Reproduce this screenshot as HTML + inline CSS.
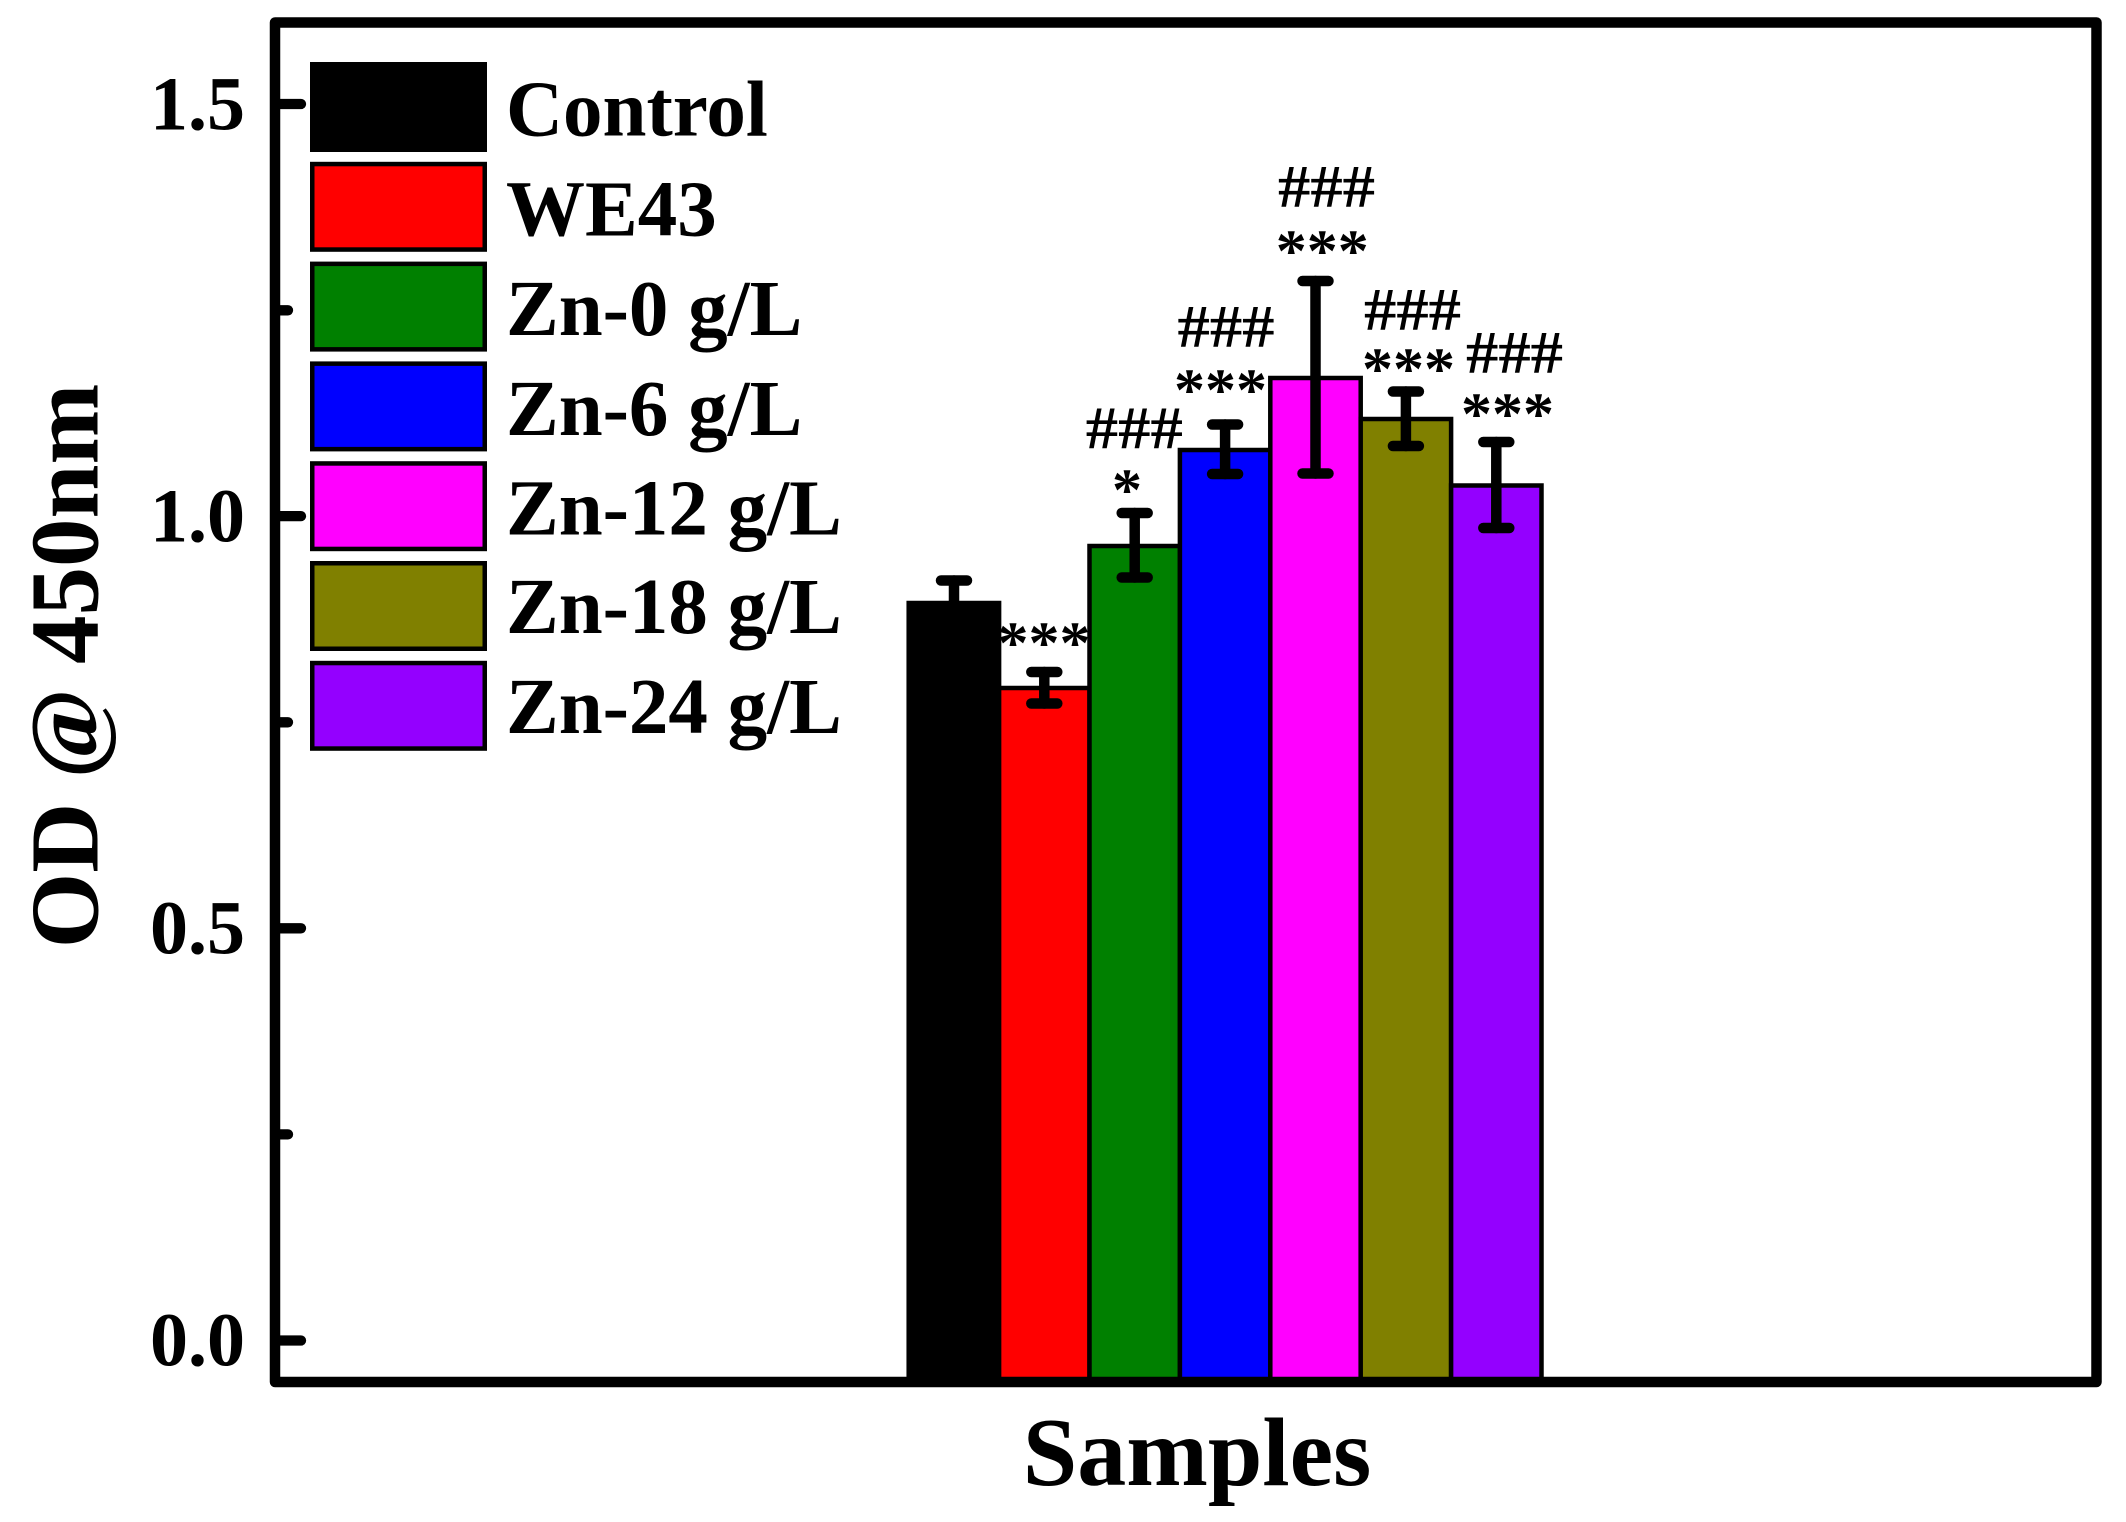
<!DOCTYPE html>
<html>
<head>
<meta charset="utf-8">
<style>
  html, body { margin: 0; padding: 0; background: #ffffff; }
  svg { display: block; }
  text { font-family: "Liberation Serif", "Times New Roman", serif; font-weight: bold; fill: #000; }
</style>
</head>
<body>
<svg width="2126" height="1522" viewBox="0 0 2126 1522" xmlns="http://www.w3.org/2000/svg">
  <rect x="0" y="0" width="2126" height="1522" fill="#ffffff"/>

  <!-- Bars -->
  <g stroke="#000" stroke-width="4.5">
    <rect x="908.7" y="603" width="90.4" height="779" fill="#000000"/>
    <rect x="999.1" y="688" width="90.4" height="694" fill="#ff0000"/>
    <rect x="1089.5" y="546" width="90.4" height="836" fill="#008000"/>
    <rect x="1179.9" y="450" width="90.4" height="932" fill="#0000ff"/>
    <rect x="1270.3" y="378" width="90.4" height="1004" fill="#ff00ff"/>
    <rect x="1360.7" y="419" width="90.4" height="963" fill="#808000"/>
    <rect x="1451.1" y="485.5" width="90.4" height="896.5" fill="#9400ff"/>
  </g>

  <!-- Error bars -->
  <g stroke="#000" stroke-width="10.5" stroke-linecap="round" fill="none">
    <line x1="954" y1="580.5" x2="954" y2="625.5"/>
    <line x1="941" y1="580.5" x2="967" y2="580.5"/>

    <line x1="1044.3" y1="672" x2="1044.3" y2="703.5"/>
    <line x1="1031.3" y1="672" x2="1057.3" y2="672"/>
    <line x1="1031.3" y1="703.5" x2="1057.3" y2="703.5"/>

    <line x1="1134.7" y1="513" x2="1134.7" y2="577.5"/>
    <line x1="1121.7" y1="513" x2="1147.7" y2="513"/>
    <line x1="1121.7" y1="577.5" x2="1147.7" y2="577.5"/>

    <line x1="1225.1" y1="424.5" x2="1225.1" y2="474"/>
    <line x1="1212.1" y1="424.5" x2="1238.1" y2="424.5"/>
    <line x1="1212.1" y1="474" x2="1238.1" y2="474"/>

    <line x1="1315.5" y1="281" x2="1315.5" y2="473.5"/>
    <line x1="1302.5" y1="281" x2="1328.5" y2="281"/>
    <line x1="1302.5" y1="473.5" x2="1328.5" y2="473.5"/>

    <line x1="1405.9" y1="391.5" x2="1405.9" y2="446"/>
    <line x1="1392.9" y1="391.5" x2="1418.9" y2="391.5"/>
    <line x1="1392.9" y1="446" x2="1418.9" y2="446"/>

    <line x1="1496.3" y1="442" x2="1496.3" y2="528"/>
    <line x1="1483.3" y1="442" x2="1509.3" y2="442"/>
    <line x1="1483.3" y1="528" x2="1509.3" y2="528"/>
  </g>

  <!-- Significance annotations -->
  <g font-size="60" text-anchor="middle">
    <text x="1044" y="663" textLength="93" lengthAdjust="spacingAndGlyphs">***</text>

    <text x="1127" y="510">*</text>
    <text x="1134.3" y="448" textLength="97" lengthAdjust="spacingAndGlyphs">###</text>

    <text x="1220.5" y="410" textLength="93" lengthAdjust="spacingAndGlyphs">***</text>
    <text x="1226" y="346.6" textLength="97" lengthAdjust="spacingAndGlyphs">###</text>

    <text x="1322.3" y="271" textLength="93" lengthAdjust="spacingAndGlyphs">***</text>
    <text x="1326.5" y="206.5" textLength="97" lengthAdjust="spacingAndGlyphs">###</text>

    <text x="1408.5" y="389" textLength="93" lengthAdjust="spacingAndGlyphs">***</text>
    <text x="1412.5" y="329.7" textLength="97" lengthAdjust="spacingAndGlyphs">###</text>

    <text x="1507.5" y="434" textLength="93" lengthAdjust="spacingAndGlyphs">***</text>
    <text x="1514.5" y="372.6" textLength="97" lengthAdjust="spacingAndGlyphs">###</text>
  </g>

  <!-- Y ticks -->
  <g stroke="#000" stroke-width="10.3" stroke-linecap="round">
    <line x1="276" y1="104" x2="301" y2="104"/>
    <line x1="276" y1="310.3" x2="288" y2="310.3"/>
    <line x1="276" y1="516.1" x2="301" y2="516.1"/>
    <line x1="276" y1="722.3" x2="288" y2="722.3"/>
    <line x1="276" y1="928.3" x2="301" y2="928.3"/>
    <line x1="276" y1="1134.4" x2="288" y2="1134.4"/>
    <line x1="276" y1="1340.5" x2="301" y2="1340.5"/>
  </g>

  <!-- Y tick labels -->
  <g font-size="76" text-anchor="end">
    <text x="245" y="129.5">1.5</text>
    <text x="245" y="541.5">1.0</text>
    <text x="245" y="953.5">0.5</text>
    <text x="245" y="1365.5">0.0</text>
  </g>

  <!-- Axis frame -->
  <rect x="275" y="22.5" width="1821.5" height="1359.5" fill="none" stroke="#000" stroke-width="10.5" stroke-linejoin="round"/>

  <!-- Legend -->
  <g stroke="#000" stroke-width="4.5">
    <rect x="312.25" y="64.25" width="172.5" height="85.5" fill="#000000"/>
    <rect x="312.25" y="164.05" width="172.5" height="85.5" fill="#ff0000"/>
    <rect x="312.25" y="263.85" width="172.5" height="85.5" fill="#008000"/>
    <rect x="312.25" y="363.65" width="172.5" height="85.5" fill="#0000ff"/>
    <rect x="312.25" y="463.45" width="172.5" height="85.5" fill="#ff00ff"/>
    <rect x="312.25" y="563.25" width="172.5" height="85.5" fill="#808000"/>
    <rect x="312.25" y="663.05" width="172.5" height="85.5" fill="#9400ff"/>
  </g>
  <g font-size="79">
    <text x="506" y="135.5">Control</text>
    <text x="506" y="235.3">WE43</text>
    <text x="506" y="335.1">Zn-0 g/L</text>
    <text x="506" y="434.9">Zn-6 g/L</text>
    <text x="506" y="534.7">Zn-12 g/L</text>
    <text x="506" y="633">Zn-18 g/L</text>
    <text x="506" y="733">Zn-24 g/L</text>
  </g>

  <!-- Axis titles -->
  <text x="97.5" y="666" font-size="97" text-anchor="middle" transform="rotate(-90 97.5 666)">OD @ 450nm</text>
  <text x="1197" y="1485" font-size="98" text-anchor="middle">Samples</text>
</svg>
</body>
</html>
